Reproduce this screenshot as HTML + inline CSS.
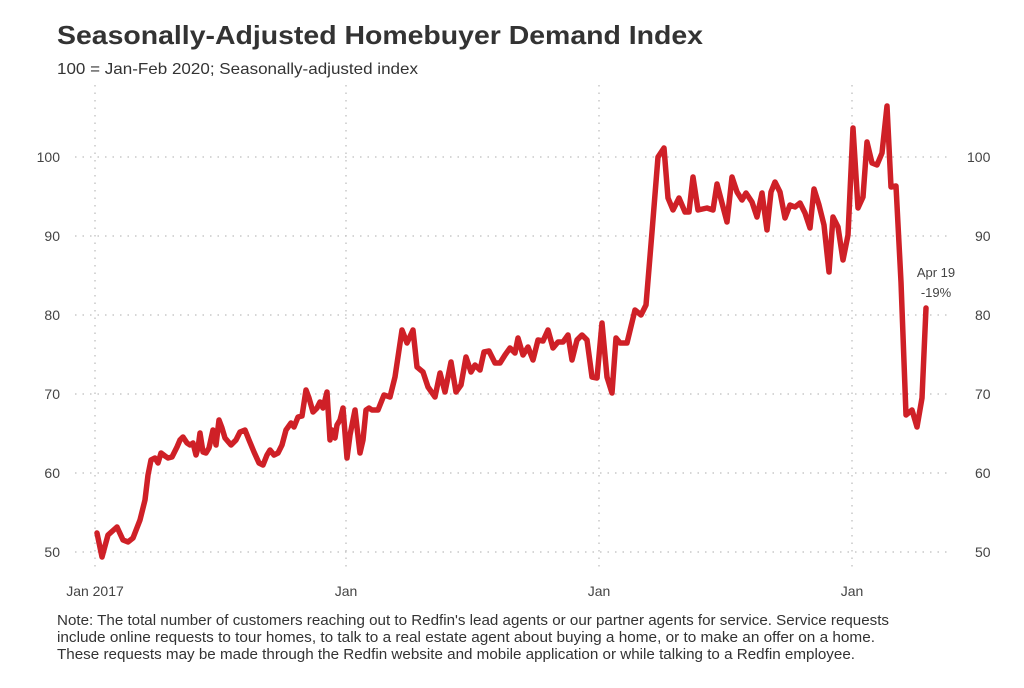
<!DOCTYPE html>
<html><head><meta charset="utf-8"><style>
body{margin:0;background:#fff;}
svg text{font-family:"Liberation Sans",sans-serif;}
</style></head><body>
<svg width="1024" height="683" xmlns="http://www.w3.org/2000/svg">
<rect width="1024" height="683" fill="#fff"/>
<text x="57" y="44" font-size="26" font-weight="bold" fill="#333" textLength="646" lengthAdjust="spacingAndGlyphs">Seasonally-Adjusted Homebuyer Demand Index</text>
<text x="57" y="74" font-size="16" fill="#333" textLength="361" lengthAdjust="spacingAndGlyphs">100 = Jan-Feb 2020; Seasonally-adjusted index</text>
<g stroke="#c8c8c8" stroke-width="1.5" stroke-dasharray="1.5 6" fill="none">
<line x1="75" x2="950" y1="157" y2="157"/><line x1="75" x2="950" y1="236" y2="236"/>
<line x1="75" x2="950" y1="315" y2="315"/><line x1="75" x2="950" y1="394" y2="394"/>
<line x1="75" x2="950" y1="473" y2="473"/><line x1="75" x2="950" y1="552" y2="552"/>
<line x1="95" x2="95" y1="85" y2="570"/><line x1="346" x2="346" y1="85" y2="570"/>
<line x1="599" x2="599" y1="85" y2="570"/><line x1="852" x2="852" y1="85" y2="570"/>
</g>
<g font-size="14" fill="#444">
<text x="60" y="162" text-anchor="end">100</text><text x="60" y="241" text-anchor="end">90</text>
<text x="60" y="320" text-anchor="end">80</text><text x="60" y="399" text-anchor="end">70</text>
<text x="60" y="478" text-anchor="end">60</text><text x="60" y="557" text-anchor="end">50</text>
<text x="967" y="162">100</text><text x="975" y="241">90</text><text x="975" y="320">80</text>
<text x="975" y="399">70</text><text x="975" y="478">60</text><text x="975" y="557">50</text>
<text x="95" y="596" text-anchor="middle">Jan 2017</text><text x="346" y="596" text-anchor="middle">Jan</text>
<text x="599" y="596" text-anchor="middle">Jan</text><text x="852" y="596" text-anchor="middle">Jan</text>
<text x="936" y="277" text-anchor="middle" font-size="13">Apr 19</text>
<text x="936" y="297" text-anchor="middle" font-size="13">-19%</text>
</g>
<polyline fill="none" stroke="#cf2027" stroke-width="5.5" stroke-linejoin="round" stroke-linecap="round" points="97,533 102,557 108,535 117,527 123,540 128,542 133,538 140,520 145,500 148,475 151,460 155,458 158,463 161,453 165,456 168,458 172,457 177,447 180,440 183,437 187,443 190,445 193,443 196,455 198,448 200,433 203,452 206,453 209,448 213,430 216,445 219,420 222,428 225,438 231,445 236,440 240,432 245,430 249,440 254,452 259,463 263,465 267,455 270,450 274,455 278,453 282,445 286,430 291,423 294,427 298,417 302,416 306,390 309,398 313,412 317,408 320,402 323,408 327,392 330,440 332,430 335,438 337,425 340,420 343,408 345,433 347,458 350,435 353,420 355,410 358,436 360,453 363,440 366,410 369,408 372,410 378,410 384,395 390,397 395,377 402,330 407,343 413,330 417,367 423,372 428,387 435,397 440,373 445,392 451,362 456,392 461,385 466,357 471,372 475,365 480,370 484,352 489,351 495,363 500,363 505,355 510,348 515,353 518,338 523,355 528,347 533,360 538,340 543,341 548,330 553,348 558,342 563,342 568,335 572,360 577,340 582,335 587,340 592,377 597,378 602,323 607,377 612,393 616,338 620,343 627,343 635,310 641,315 646,305 652,232 658,157 664,148 668,198 673,210 679,198 685,212 689,212 693,177 698,210 707,208 713,210 717,184 722,203 727,222 732,177 737,192 742,200 746,193 752,202 757,217 762,193 767,230 771,192 775,182 780,192 785,218 790,205 795,207 800,203 805,213 810,228 814,189 819,205 824,225 829,272 833,217 838,227 843,260 848,235 853,128 858,208 863,197 867,142 872,163 877,165 882,153 887,106 891,187 896,186 901,282 906,415 912,410 917,427 922,398 926,308"/>
<g font-size="14.5" fill="#333">
<text x="57" y="625" textLength="832" lengthAdjust="spacingAndGlyphs">Note: The total number of customers reaching out to Redfin's lead agents or our partner agents for service. Service requests</text>
<text x="57" y="642" textLength="818" lengthAdjust="spacingAndGlyphs">include online requests to tour homes, to talk to a real estate agent about buying a home, or to make an offer on a home.</text>
<text x="57" y="659" textLength="798" lengthAdjust="spacingAndGlyphs">These requests may be made through the Redfin website and mobile application or while talking to a Redfin employee.</text>
</g>
</svg>
</body></html>
